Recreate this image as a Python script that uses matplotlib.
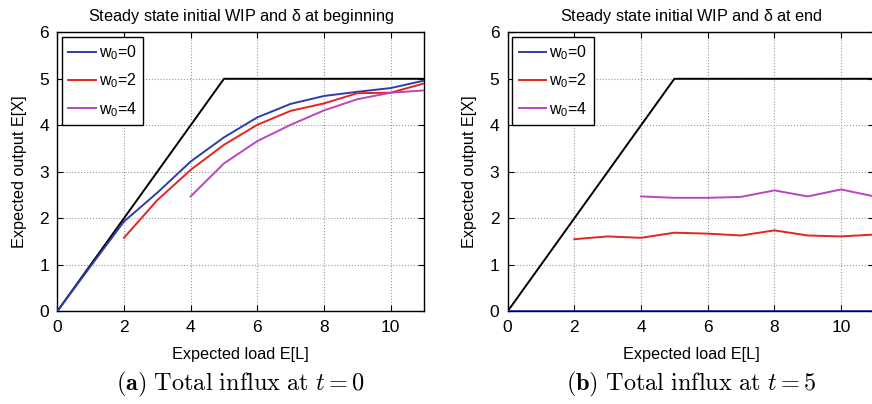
import matplotlib
matplotlib.use("Agg")
import matplotlib.pyplot as plt

# ------------------------------------------------------------------ data
load = [0, 1, 2, 3, 4, 5, 6, 7, 8, 9, 10, 11]
cap_x = [0, 5, 11]
cap_y = [0, 5, 5]

# (a) influx at t = 0
a_w0 = [0, 0.97, 1.93, 2.55, 3.22, 3.74, 4.17, 4.46, 4.63, 4.72, 4.80, 4.96]
a_w2_x = [2, 3, 4, 5, 6, 7, 8, 9, 10, 11]
a_w2 = [1.58, 2.39, 3.04, 3.58, 4.01, 4.31, 4.47, 4.69, 4.70, 4.90]
a_w4_x = [4, 5, 6, 7, 8, 9, 10, 11]
a_w4 = [2.47, 3.18, 3.66, 4.01, 4.32, 4.56, 4.70, 4.75]

# (b) influx at t = 5
b_w0 = [0] * 12
b_w2_x = [2, 3, 4, 5, 6, 7, 8, 9, 10, 11]
b_w2 = [1.55, 1.61, 1.58, 1.69, 1.67, 1.63, 1.74, 1.63, 1.61, 1.65]
b_w4_x = [4, 5, 6, 7, 8, 9, 10, 11]
b_w4 = [2.47, 2.44, 2.44, 2.46, 2.60, 2.47, 2.62, 2.47]

labels = [r"w$\mathregular{_0}$=0", r"w$\mathregular{_0}$=2", r"w$\mathregular{_0}$=4"]
titles = [r"Steady state initial WIP and $\mathregular{\delta}$ at beginning",
          r"Steady state initial WIP and $\mathregular{\delta}$ at end"]
captions = [r"$\mathbf{(a)}\ \mathrm{Total\ influx\ at}\ t=0$",
            r"$\mathbf{(b)}\ \mathrm{Total\ influx\ at}\ t=5$"]

BLUE = "#2f3ea6"; RED = "#e3251f"; MAG = "#bb44c0"

plt.rcParams.update({
    "font.family": ["Liberation Sans", "DejaVu Sans"],
    "mathtext.fontset": "cm",
    "font.size": 11,
    "xtick.direction": "in", "ytick.direction": "in",
    "xtick.top": True, "ytick.right": True,
    "axes.linewidth": 1.0,
})

fig = plt.figure(figsize=(8.72, 4.04), dpi=100)
ax_a = fig.add_axes([0.0657, 0.2295, 0.4205, 0.6906])
ax_b = fig.add_axes([0.5822, 0.2295, 0.4205, 0.6906])

panels = [
    (ax_a, (load, a_w0), (a_w2_x, a_w2), (a_w4_x, a_w4)),
    (ax_b, (load, b_w0), (b_w2_x, b_w2), (b_w4_x, b_w4)),
]

for i, (ax, s0, s2, s4) in enumerate(panels):
    l0, = ax.plot(*s0, color=BLUE, lw=1.4, zorder=3)
    l2, = ax.plot(*s2, color=RED, lw=1.4, zorder=3)
    l4, = ax.plot(*s4, color=MAG, lw=1.4, zorder=3)
    ax.plot(cap_x, cap_y, color="black", lw=1.4, zorder=2)
    ax.set_xlim(0, 11); ax.set_ylim(0, 6)
    ax.set_xticks([0, 2, 4, 6, 8, 10]); ax.set_yticks(range(7))
    ax.grid(True, linestyle=":", color="#999999", linewidth=0.8)
    ax.tick_params(length=4, labelsize=12.5, pad=6)
    ax.set_xlabel("Expected load E[L]", fontsize=11.7, labelpad=9)
    ax.set_ylabel("Expected output E[X]", fontsize=11.7, labelpad=9)
    ax.set_title(titles[i], fontsize=11.7, pad=8)
    lg = ax.legend([l0, l2, l4], labels, loc="upper left", fancybox=False,
                   edgecolor="black", framealpha=1, fontsize=11.5,
                   handlelength=1.7, handletextpad=0.2, borderaxespad=0.3,
                   labelspacing=0.6, borderpad=0.4)
    lg.get_frame().set_linewidth(1.0)
    ax.text(0.5, -0.262, captions[i], transform=ax.transAxes, ha="center",
            va="center", fontsize=17.5)

fig.savefig("out.png", dpi=100)
